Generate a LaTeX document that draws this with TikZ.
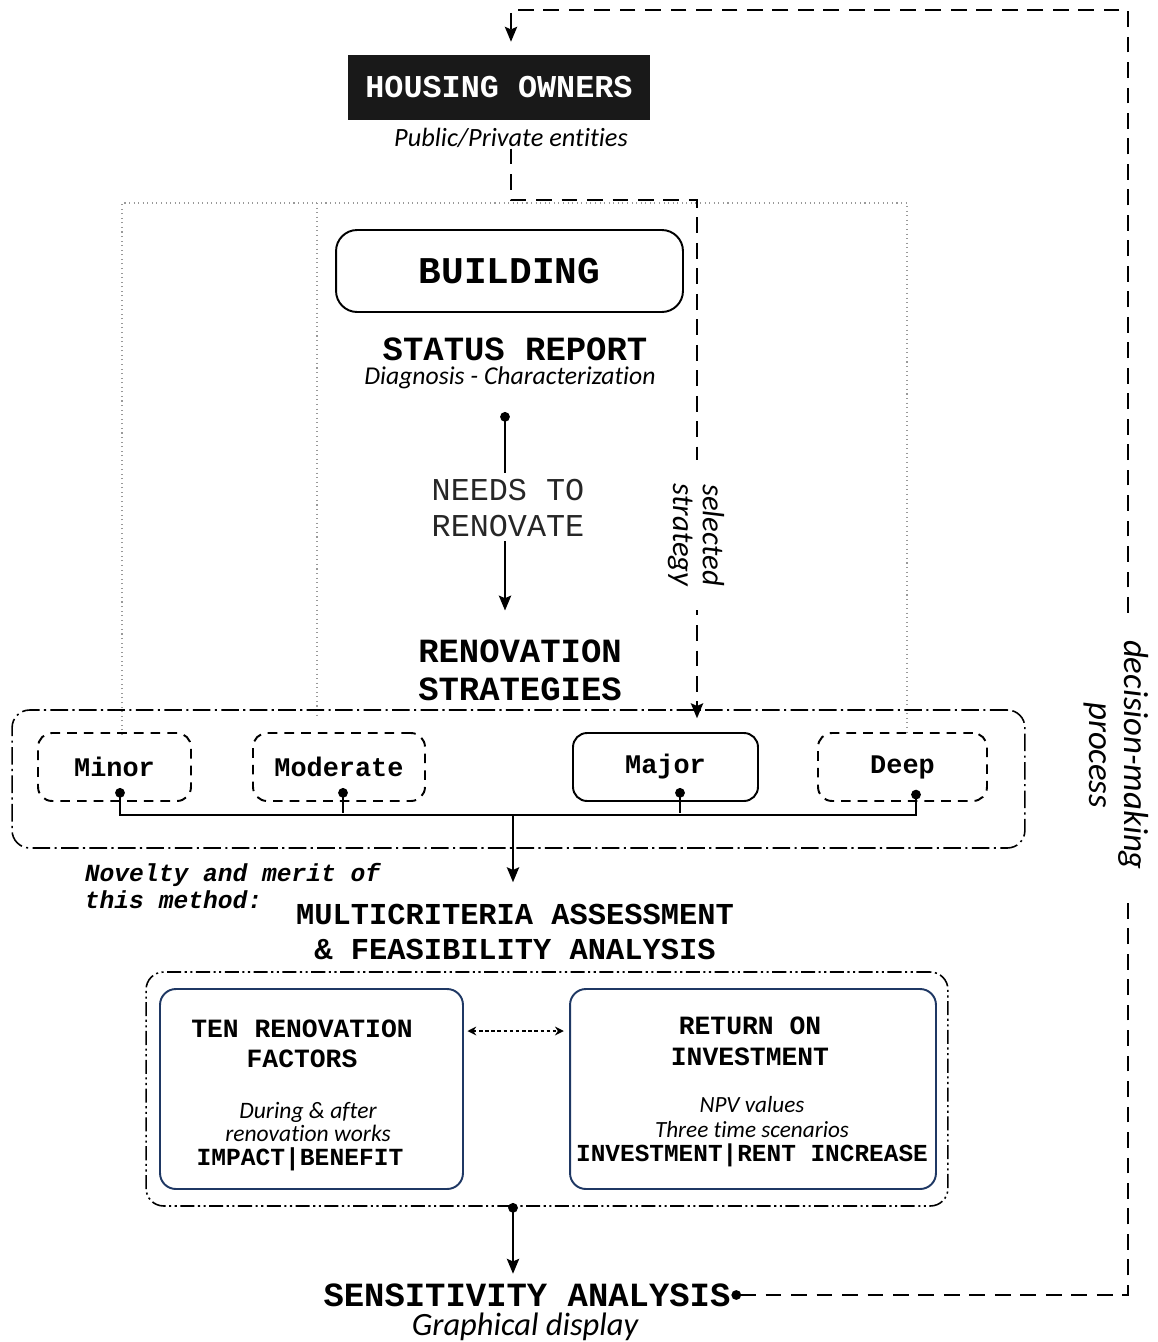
\documentclass[tikz,border=0pt]{standalone}
\usepackage{fontspec}
\setmainfont{Carlito}[Ligatures=NoCommon]
\newfontfamily\monofam{Liberation Mono}
\usetikzlibrary{arrows,arrows.meta,positioning}
\definecolor{navyline}{RGB}{31,56,100}
\newcommand{\fsz}[2]{\fontsize{#1}{#2}\selectfont}

\begin{document}
\begin{tikzpicture}[>={Stealth[length=8.5pt,width=7pt,inset=1.5pt]},shorten >=1pt,x=0.02cm,y=-0.02cm,line width=1.1pt]
\useasboundingbox (0,0) rectangle (1157,1342);
\tikzset{ball/.tip={Circle[length=5.5pt]}}
\tikzset{heading/.style={font=\monofam\bfseries\fsz{19.3}{21.5}, align=center, inner sep=0pt}}
\tikzset{note/.style={font=\itshape\fsz{15}{17}, align=center, inner sep=0pt}}
\tikzset{optbox/.style={draw, rounded corners=8pt, minimum width=#1, minimum height=1.36cm, inner sep=0pt, font=\monofam\bfseries\fsz{15.3}{17}}}
\tikzset{openbox/.style={optbox=#1, dash pattern=on 5.5pt off 4pt}}
\tikzset{toolbox/.style={draw=navyline, rounded corners=9pt, minimum width=#1, minimum height=4cm}}
\tikzset{loopline/.style={dash pattern=on 9pt off 5.5pt}}
\tikzset{guide/.style={gray!80, line width=0.6pt, dotted}}

% owners
\node[fill=black!90, minimum width=6.04cm, minimum height=1.3cm, text=white, font=\monofam\bfseries\fsz{18.1}{20}] (owners) at (499,87.5) {HOUSING OWNERS};
\node[note] (entities) at (511,138) {Public/Private entities};

% dotted frame behind the building part
\draw[guide] (122,735) |- (907,203) -- (907,735);
\draw[guide] (317,203) -- (317,720);

% building and status report
\node[draw, rounded corners=12pt, minimum width=6.94cm, minimum height=1.64cm, font=\monofam\bfseries\fsz{21.5}{24}] (building) at (509.5,271) {BUILDING};
\node[heading, text depth=0pt] (status) at (515,349) {STATUS REPORT};
\node[note, font=\itshape\fsz{14.6}{16}] (diag) at (510,378) {Diagnosis - Characterization};
\node[font=\monofam\fsz{18.1}{20.4}, text=black!85, align=center, inner sep=2pt] (needs) at (508,508) {NEEDS TO\\RENOVATE};
\node[heading] (strategies) at (520,670) {RENOVATION\\STRATEGIES};
\coordinate (ndot) at (505,412);

% strategy levels
\node[draw, rounded corners=10pt, dash pattern=on 10pt off 2.5pt on 1.2pt off 2.5pt, line width=0.9pt, minimum width=20.26cm, minimum height=2.76cm] (row) at (518.5,779) {};
\node[openbox=3.06cm] (minor) at (114.5,767) {Minor};
\node[openbox=3.44cm] (moderate) at (339,767) {Moderate};
\node[optbox=3.7cm] (major) at (665.5,767) {Major};
\node[openbox=3.38cm] (deep) at (902.5,767) {Deep};
\coordinate (dminor) at (120,788);
\coordinate (dmoderate) at (343,788);
\coordinate (dmajor) at (680,788);
\coordinate (ddeep) at (916,788);
\coordinate (bus) at (513,815);

\node[font=\monofam\bfseries\itshape\fsz{14}{15.9}, align=left, anchor=west, inner sep=0pt] (novelty) at (84,886) {Novelty and merit of\\this method:};
\node[heading, font=\monofam\bfseries\fsz{17.3}{19.8}] (multi) at (515,932) {MULTICRITERIA ASSESSMENT\\\& FEASIBILITY ANALYSIS};

% assessment
\node[draw, rounded corners=10pt, dash pattern=on 8pt off 2pt on 1.2pt off 2pt on 1.2pt off 2pt, line width=0.9pt, minimum width=16.04cm, minimum height=4.68cm] (frame) at (547,1089) {};
\node[toolbox=6.06cm] (factors) at (311.5,1089) {};
\node[toolbox=7.32cm] (roi) at (753,1089) {};
\node[heading, font=\monofam\bfseries\fsz{15}{17}] (ften) at (302,1044) {TEN RENOVATION\\FACTORS};
\node[note, font=\itshape\fsz{13.4}{13.6}] (fnote) at (308,1122) {During \& after\\renovation works};
\node[heading, font=\monofam\bfseries\fsz{14}{16}] (fimpact) at (300,1159) {IMPACT|BENEFIT};
\node[heading, font=\monofam\bfseries\fsz{15}{17.6}] (rtitle) at (750,1041.5) {RETURN ON\\INVESTMENT};
\node[note, font=\itshape\fsz{13.2}{14.2}] (rnote) at (752,1117) {NPV values\\Three time scenarios};
\node[heading, font=\monofam\bfseries\fsz{13.9}{16}] (rinvest) at (752,1155) {INVESTMENT|RENT INCREASE};
\coordinate (fdot) at (513,1203);

\node[heading] (sens) at (527,1295) {SENSITIVITY ANALYSIS};
\node[note, font=\itshape\fsz{18.5}{20}] (graph) at (525,1327) {Graphical display};

\coordinate (turn) at (697,200);
\coordinate (pick) at (697,720);
\coordinate (corner) at (1128,10);

% connectors
\draw[ball-] (ndot) -- (ndot |- needs.north);
\draw[->, shorten >=16pt] (ndot |- needs.south) -- (ndot |- strategies.north);
\draw[ball-ball] (dminor) |- (bus) -| (ddeep);
\draw[ball-] (dmoderate) -- (dmoderate |- bus);
\draw[ball-] (dmajor) -- (dmajor |- bus);
\draw[->, shorten >=12pt] (bus) -- (bus |- multi.north);
\draw[{Stealth[length=5pt,width=5pt]}-{Stealth[length=5pt,width=5pt]}, dash pattern=on 2pt off 1.5pt, line width=1pt, shorten <=2pt, shorten >=3pt] ([yshift=1.16cm]factors.east) -- ([yshift=1.16cm]roi.west);
\draw[ball->, shorten >=5pt] (fdot) -- (fdot |- sens.north);
\draw[loopline, ->] (entities.south) |- (turn) -- (pick);
\draw[loopline, ball->, shorten >=7pt] (sens.east) -| (corner) -| ([xshift=0.24cm]owners.north);

% labels on the dashed lines
\node[note, rotate=-90, fill=white, minimum width=3cm, font=\itshape\fsz{17.5}{17}] (selected) at (696,535) {selected\\strategy};
\node[note, rotate=-90, fill=white, minimum width=5.7cm, inner sep=2pt, font=\itshape\fsz{19.8}{20}] (decision) at (1116,755) {decision-making\\process};
\end{tikzpicture}
\end{document}
